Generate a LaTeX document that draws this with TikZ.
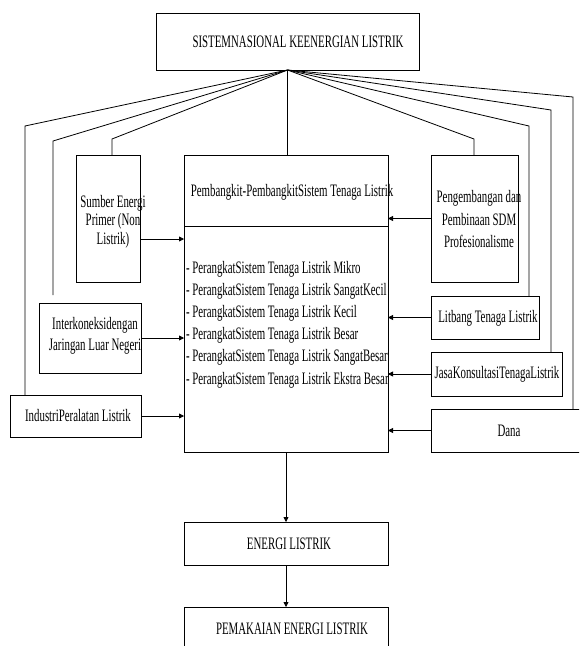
\documentclass[tikz,border=0pt]{standalone}
\usepackage{fontspec}
\setmainfont{Liberation Serif}[FakeStretch=0.62]
\usetikzlibrary{arrows.meta}
\begin{document}
\begin{tikzpicture}[x=1pt,y=-1pt,
  box/.style={draw, line width=0.8pt, inner sep=0pt, outer sep=0pt},
  txt/.style={inner sep=0pt, outer sep=0pt, align=center, font=\fontsize{17.5}{20}\selectfont},
  link/.style={line width=0.8pt},
  arr/.style={line width=0.8pt, -{Triangle[length=5pt,width=5pt]}}]
\clip (0,0) rectangle (579,646);
\fill[white] (0,0) rectangle (579,646);
% boxes
\node[box, minimum width=263pt, minimum height=57pt] (top) at (287.5,41.5) {};
\node[box, minimum width=64pt, minimum height=127pt] (sumber) at (108,218.5) {};
\node[box, minimum width=102pt, minimum height=70pt] (inter) at (90,338) {};
\node[box, minimum width=131pt, minimum height=42pt] (industri) at (75.5,416) {};
\node[box, minimum width=204pt, minimum height=71pt] (pbtop) at (286,190.5) {};
\node[box, minimum width=204pt, minimum height=226pt] (pbbot) at (286,339) {};
\node[box, minimum width=87pt, minimum height=127pt] (peng) at (474.5,218.5) {};
\node[box, minimum width=108pt, minimum height=43pt] (litbang) at (485,317.5) {};
\node[box, minimum width=131pt, minimum height=44pt] (jasa) at (496.5,374) {};
\node[box, minimum width=159pt, minimum height=43pt] (dana) at (510.5,430.5) {};
\node[box, minimum width=204pt, minimum height=43pt] (energi) at (286,543.5) {};
\node[box, minimum width=204pt, minimum height=53pt] (pakai) at (286,633.5) {};
% texts
\node[txt] (ttop) at (298,42) {SISTEMNASIONAL KEENERGIAN LISTRIK};
\node[txt, font=\fontsize{17.5}{18.5}\selectfont] (tsumber) at (113,221.5) {Sumber Energi\\Primer (Non\\Listrik)};
\node[txt, font=\fontsize{17.5}{21}\selectfont] (tinter) at (95,336) {Interkoneksidengan\\Jaringan Luar Negeri};
\node[txt] (tindustri) at (78,416) {IndustriPeralatan Listrik};
\node[txt] (tpbtop) at (292,192) {Pembangkit-PembangkitSistem Tenaga Listrik};
\node[txt, align=left, anchor=north west, font=\fontsize{17.5}{22.2}\selectfont] (tlist) at (186,261) {%
- PerangkatSistem Tenaga Listrik Mikro\\
- PerangkatSistem Tenaga Listrik SangatKecil\\
- PerangkatSistem Tenaga Listrik Kecil\\
- PerangkatSistem Tenaga Listrik Besar\\
- PerangkatSistem Tenaga Listrik SangatBesar\\
- PerangkatSistem Tenaga Listrik Ekstra Besar};
\node[txt, font=\fontsize{17.5}{22.5}\selectfont] (tpeng) at (479,219.5) {Pengembangan dan\\Pembinaan SDM\\Profesionalisme};
\node[txt] (tlitbang) at (488,318) {Litbang Tenaga Listrik};
\node[txt] (tjasa) at (497,374) {JasaKonsultasiTenagaListrik};
\node[txt] (tdana) at (509,431) {Dana};
\node[txt] (tenergi) at (289,544) {ENERGI LISTRIK};
\node[txt] (tpakai) at (292,629) {PEMAKAIAN ENERGI LISTRIK};
% bend points
\coordinate (b1) at (25,126);
\coordinate (b2) at (53,141);
\coordinate (b3) at (112,139);
\coordinate (b4) at (474,139);
\coordinate (b5) at (529,126);
\coordinate (b6) at (551,110);
\coordinate (b7) at (573,97);
% tree links
\draw[link] (top.south) -- (b1) -- (b1 |- industri.north);
\draw[link, shorten >=8pt] (top.south) -- (b2) -- (b2 |- inter.north);
\draw[link] (top.south) -- (b3) -- (b3 |- sumber.north);
\draw[link] (top.south) -- (top.south |- pbtop.north);
\draw[link] (top.south) -- (b4) -- (b4 |- peng.north);
\draw[link] (top.south) -- (b5) -- (b5 |- litbang.north);
\draw[link] (top.south) -- (b6) -- (b6 |- jasa.north);
\draw[link] (top.south) -- (b7) -- (b7 |- dana.north);
% arrows into centre
\draw[arr] ([yshift=-20.5pt]sumber.east) coordinate (a1) -- (a1 -| pbbot.west);
\draw[arr] (inter.east) -- (inter.east -| pbbot.west);
\draw[arr] (industri.east) -- (industri.east -| pbbot.west);
\draw[arr] (peng.west) -- (peng.west -| pbtop.east);
\draw[arr] (litbang.west) -- (litbang.west -| pbbot.east);
\draw[arr] (jasa.west) -- (jasa.west -| pbbot.east);
\draw[arr] (dana.west) -- (dana.west -| pbbot.east);
% downward flow
\draw[arr] (pbbot.south) -- (energi.north);
\draw[arr] (energi.south) -- (pakai.north);
\end{tikzpicture}
\end{document}
